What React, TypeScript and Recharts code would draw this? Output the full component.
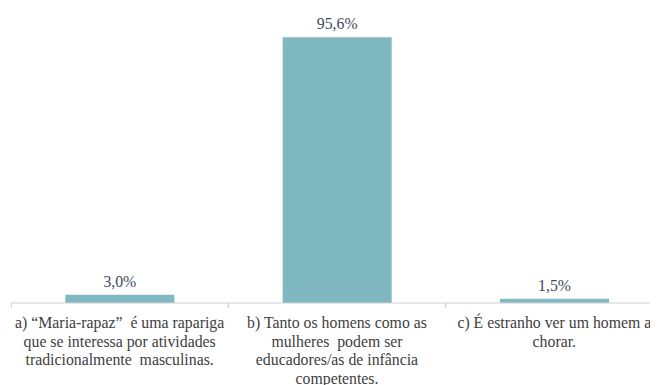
import React from "react";
import { BarChart, Bar, XAxis, YAxis, LabelList } from "recharts";

const categories: string[] = [
  "a) “Maria-rapaz”  é uma rapariga\nque se interessa por atividades\ntradicionalmente  masculinas.",
  "b) Tanto os homens como as\nmulheres  podem ser\neducadores/as de infância\ncompetentes.",
  "c) É estranho ver um homem a\nchorar.",
];
const values: number[] = [3.0, 95.6, 1.5];

const data = categories.map((c, i) => ({ name: c, value: values[i] }));

const fmt = (v: number) => v.toFixed(1).replace(".", ",") + "%";

const HALF_BAND = 108.5;
const SERIF = "Liberation Serif";

const CatTick = (props: any) => {
  const { x, y, payload } = props;
  const lines: string[] = String(payload.value).split("\n");
  return (
    <g>
      <line x1={x - HALF_BAND} y1={y - 8} x2={x - HALF_BAND} y2={y - 3} stroke="#d0d0d0" />
      <line x1={x + HALF_BAND} y1={y - 8} x2={x + HALF_BAND} y2={y - 3} stroke="#d0d0d0" />
      {lines.map((l, i) => (
        <text
          key={i}
          x={x}
          y={y + 17 + i * 18.7}
          textAnchor="middle"
          fill="#404040"
          xmlSpace="preserve"
          fontFamily={SERIF}
          fontSize={15.8}
          style={{ fontFamily: SERIF, fontSize: 15.8 }}
        >
          {l}
        </text>
      ))}
    </g>
  );
};

export default function App() {
  return (
    <div style={{ margin: "-8px 0 0 -8px", width: 658, height: 385, overflow: "hidden" }}>
      <BarChart
        width={670}
        height={385}
        data={data}
        margin={{ top: 25, right: 7, bottom: 0, left: 11 }}
        barCategoryGap="25%"
      >
        <XAxis
          dataKey="name"
          interval={0}
          height={82}
          axisLine={{ stroke: "#d0d0d0" }}
          tickLine={false}
          tick={<CatTick />}
        />
        <YAxis hide domain={[0, 100]} />
        <Bar dataKey="value" fill="#7fb8c1" isAnimationActive={false}>
          <LabelList
            dataKey="value"
            position="top"
            offset={8}
            formatter={(v: any) => fmt(Number(v))}
            fill="#404a58"
            fontFamily={SERIF}
            fontSize={15.8}
          />
        </Bar>
      </BarChart>
    </div>
  );
}
